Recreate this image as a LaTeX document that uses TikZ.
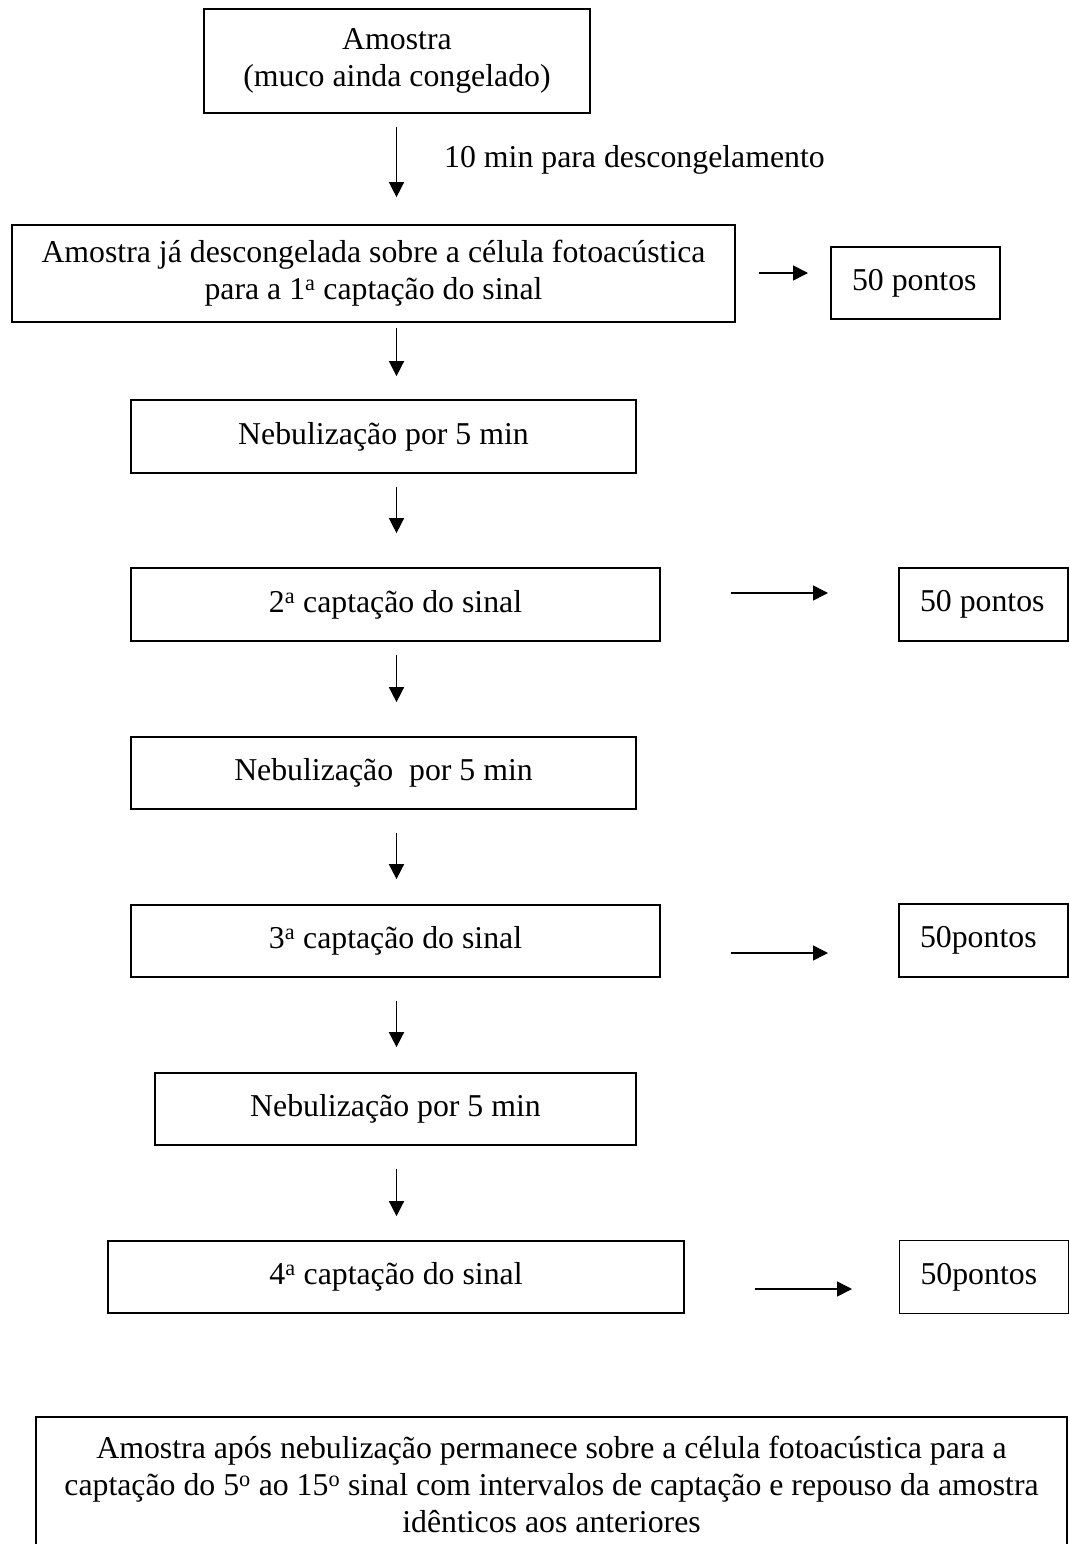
\documentclass[tikz,border=0pt]{standalone}
\usepackage{fontspec}
\setmainfont{Liberation Serif}
\usetikzlibrary{arrows.meta,calc}
\newcommand{\ptxt}[1]{\makebox[127pt][l]{#1}}
\begin{document}
\begin{tikzpicture}[x=1pt,y=-1pt,
  txt/.style={font=\fontsize{31.8}{37}\selectfont},
  box/.style={txt,draw,line width=1.7pt,inner sep=0pt,align=center},
  pbox/.style={txt,draw,line width=1.7pt,inner sep=0pt,minimum width=169pt,minimum height=73pt},
  arr/.style={line width=1.5pt,-{Triangle[length=15pt,width=15pt]}}]
\useasboundingbox (0,0) rectangle (1069,1544);
\fill[white] (0,0) rectangle (1069,1544);
\coordinate (ax) at (396.5,0);

\node[box,minimum width=386pt,minimum height=104pt] (b1) at (397,61) {Amostra\\(muco ainda congelado)};
\node[txt,anchor=west,inner sep=0pt] (lab) at (444,160) {10 min para descongelamento};
\node[box,minimum width=723pt,minimum height=97pt] (b2) at (373.5,273.5) {Amostra já descongelada sobre a célula fotoacústica\\para a 1\textsuperscript{a} captação do sinal};
\node[pbox,minimum height=72pt] (p1) at (915.5,283) {\ptxt{50 pontos}};
\node[box,minimum width=505pt,minimum height=73pt] (n1) at (383.5,436.5) {Nebulização por 5 min};
\node[box,minimum width=529pt,minimum height=73pt] (c2) at (395.5,604.5) {2\textsuperscript{a} captação do sinal};
\node[pbox] (p2) at (983.5,604.5) {\ptxt{50 pontos}};
\node[box,minimum width=505pt,minimum height=72pt] (n2) at (383.5,773) {Nebulização\ \ por 5 min};
\node[box,minimum width=529pt,minimum height=72pt] (c3) at (395.5,941) {3\textsuperscript{a} captação do sinal};
\node[pbox] (p3) at (983.5,940.5) {\ptxt{50pontos}};
\node[box,minimum width=481pt,minimum height=72pt] (n3) at (395.5,1109) {Nebulização por 5 min};
\node[box,minimum width=576pt,minimum height=72pt] (c4) at (396,1277) {4\textsuperscript{a} captação do sinal};
\node[pbox] (p4) at (984,1277) {\ptxt{50pontos}};
\node[box,minimum width=1031pt,anchor=north,inner ysep=19pt,text depth=40pt] (fin) at (551.5,1416) {Amostra após nebulização permanece sobre a célula fotoacústica para a\\captação do 5\textsuperscript{o} ao 15\textsuperscript{o} sinal com intervalos de captação e repouso da amostra\\idênticos aos anteriores};

% vertical arrows
\draw[arr,shorten <=13pt,shorten >=27pt] (ax |- b1.south) -- (ax |- b2.north);
\draw[arr,shorten <=5pt,shorten >=23pt] (ax |- b2.south) -- (ax |- n1.north);
\draw[arr,shorten <=13pt,shorten >=34pt] (ax |- n1.south) -- (ax |- c2.north);
\draw[arr,shorten <=13pt,shorten >=34pt] (ax |- c2.south) -- (ax |- n2.north);
\draw[arr,shorten <=23pt,shorten >=25pt] (ax |- n2.south) -- (ax |- c3.north);
\draw[arr,shorten <=23pt,shorten >=25pt] (ax |- c3.south) -- (ax |- n3.north);
\draw[arr,shorten <=23pt,shorten >=24pt] (ax |- n3.south) -- (ax |- c4.north);

% horizontal arrows
\coordinate (r1s) at (759,273); \coordinate (r1e) at (808,273);
\coordinate (r2s) at (731,593); \coordinate (r2e) at (828,593);
\coordinate (r3s) at (731,953); \coordinate (r3e) at (828,953);
\coordinate (r4s) at (755,1289); \coordinate (r4e) at (852,1289);
\draw[arr] (r1s) -- (r1e);
\draw[arr] (r2s) -- (r2e);
\draw[arr] (r3s) -- (r3e);
\draw[arr] (r4s) -- (r4e);
\end{tikzpicture}
\end{document}
